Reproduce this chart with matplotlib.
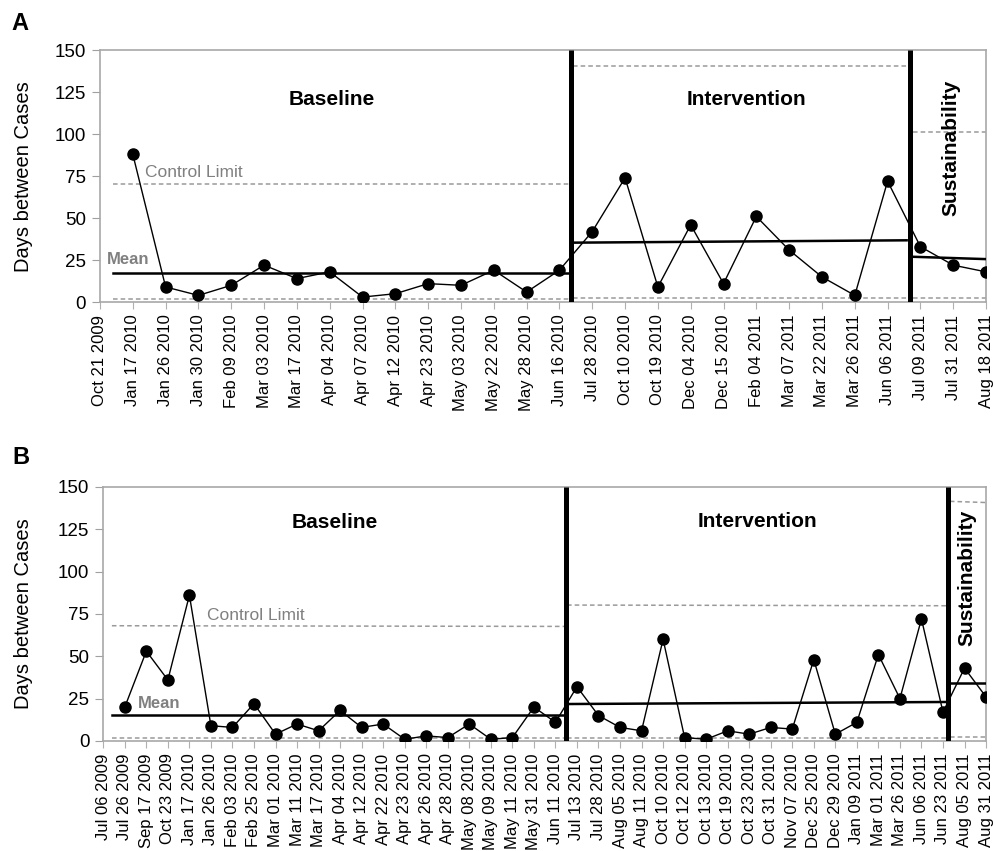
import numpy as np
import matplotlib.pyplot as plt

plt.rcParams['font.family'] = ['Liberation Sans', 'DejaVu Sans']

# -----------------------------
# Panel A data
# -----------------------------
dates_a = ["Oct 21 2009", "Jan 17 2010", "Jan 26 2010", "Jan 30 2010", "Feb 09 2010",
           "Mar 03 2010", "Mar 17 2010", "Apr 04 2010", "Apr 07 2010", "Apr 12 2010",
           "Apr 23 2010", "May 03 2010", "May 22 2010", "May 28 2010", "Jun 16 2010",
           "Jul 28 2010", "Oct 10 2010", "Oct 19 2010", "Dec 04 2010", "Dec 15 2010",
           "Feb 04 2011", "Mar 07 2011", "Mar 22 2011", "Mar 26 2011", "Jun 06 2011",
           "Jul 09 2011", "Jul 31 2011", "Aug 18 2011"]
days_a = [88, 9, 4, 10, 22, 14, 18, 3, 5, 11, 10, 19, 6, 19,
          42, 74, 9, 46, 11, 51, 31, 15, 4, 72, 33, 22, 18]
breaks_a = [14.36, 24.68]
mean_a = [(17.2, 17.2), (35.4, 36.8), (27.0, 25.6)]
ucl_a = [(70.5, 70.5), (140.7, 140.7), (101.0, 101.0)]
lcl_a = [(2.0, 2.0), (2.3, 2.3), (2.5, 2.5)]

# -----------------------------
# Panel B data
# -----------------------------
dates_b = ["Jul 06 2009", "Jul 26 2009", "Sep 17 2009", "Oct 23 2009", "Jan 17 2010",
           "Jan 26 2010", "Feb 03 2010", "Feb 25 2010", "Mar 01 2010", "Mar 11 2010",
           "Mar 17 2010", "Apr 04 2010", "Apr 12 2010", "Apr 22 2010", "Apr 23 2010",
           "Apr 26 2010", "Apr 28 2010", "May 08 2010", "May 09 2010", "May 11 2010",
           "May 31 2010", "Jun 11 2010", "Jul 13 2010", "Jul 28 2010", "Aug 05 2010",
           "Aug 11 2010", "Oct 10 2010", "Oct 12 2010", "Oct 13 2010", "Oct 19 2010",
           "Oct 23 2010", "Oct 31 2010", "Nov 07 2010", "Dec 25 2010", "Dec 29 2010",
           "Jan 09 2011", "Mar 01 2011", "Mar 26 2011", "Jun 06 2011", "Jun 23 2011",
           "Aug 05 2011", "Aug 31 2011"]
days_b = [20, 53, 36, 86, 9, 8, 22, 4, 10, 6, 18, 8, 10, 1, 3, 2, 10, 1, 2, 20, 11,
          32, 15, 8, 6, 60, 2, 1, 6, 4, 8, 7, 48, 4, 11, 51, 25, 72, 17,
          43, 26]
breaks_b = [21.48, 39.24]
mean_b = [(15.2, 15.2), (21.8, 23.0), (34.4, 34.4)]
ucl_b = [(68.0, 67.6), (80.2, 79.8), (141.4, 140.7)]
lcl_b = [(1.6, 1.6), (2.0, 2.0), (2.6, 2.6)]


def draw_panel(ax, dates, days, breaks, means, ucls, lcls):
    n = len(dates) - 1
    x = np.arange(1, n + 1)
    starts = [0.4, breaks[0] + 0.06, breaks[1] + 0.08]
    ends = [breaks[0] - 0.08, breaks[1] - 0.1, n]

    for s, e, m, u, l in zip(starts, ends, means, ucls, lcls):
        ax.plot([s, e], u, ls=(0, (3, 2)), color="#9a9a9a", lw=1.1, zorder=2)
        ax.plot([s, e], l, ls=(0, (3, 2)), color="#9a9a9a", lw=1.1, zorder=2)
        ax.plot([s, e], m, color="black", lw=1.8, zorder=3)

    for b in breaks:
        ax.plot([b, b], [0, 150], color="black", lw=3.6, zorder=4,
                solid_capstyle="butt")

    ax.plot(x, days, color="black", lw=1.0, marker="o", ms=8, zorder=5)

    ax.set_xlim(0, n)
    ax.set_ylim(0, 150)
    ax.set_yticks(np.arange(0, 151, 25))
    ax.set_xticks(np.arange(0, n + 1))
    ax.set_xticklabels(dates, rotation=90, fontsize=12)
    ax.tick_params(axis="y", labelsize=13.5, length=6, color="#a0a0a0", pad=4)
    ax.tick_params(axis="x", length=5, color="#b0b0b0", pad=4)
    for sp in ax.spines.values():
        sp.set_color("#a8a8a8")
        sp.set_linewidth(1.2)
    ax.set_ylabel("Days between Cases", fontsize=14.5)


fig = plt.figure(figsize=(9.93, 8.51), dpi=100)

# (A)
axA = fig.add_axes([0.1007, 0.645, 0.8923, 0.296])
draw_panel(axA, dates_a, days_a, breaks_a, mean_a, ucl_a, lcl_a)
axA.yaxis.set_label_coords(-0.076, 0.5)
axA.text(7.05, 120.4, "Baseline", ha="center", va="center", fontsize=15, fontweight="bold")
axA.text(19.7, 120.4, "Intervention", ha="center", va="center", fontsize=15, fontweight="bold")
axA.text(25.93, 91.7, "Sustainability", ha="center", va="center", rotation=90,
         fontsize=15, fontweight="bold")
axA.text(1.37, 77.4, "Control Limit", ha="left", va="center", fontsize=12.5, color="#808080")
axA.text(0.21, 25.4, "Mean", ha="left", va="center", fontsize=12, fontweight="bold",
         color="#808080")

# (B)
axB = fig.add_axes([0.1040, 0.1293, 0.8890, 0.2987])
draw_panel(axB, dates_b, days_b, breaks_b, mean_b, ucl_b, lcl_b)
axB.yaxis.set_label_coords(-0.080, 0.5)
axB.text(10.74, 128.8, "Baseline", ha="center", va="center", fontsize=15, fontweight="bold")
axB.text(30.4, 129.4, "Intervention", ha="center", va="center", fontsize=15, fontweight="bold")
axB.text(40.1, 96.2, "Sustainability", ha="center", va="center", rotation=90,
         fontsize=15, fontweight="bold")
axB.text(4.84, 74.3, "Control Limit", ha="left", va="center", fontsize=12.5, color="#808080")
axB.text(1.63, 22.4, "Mean", ha="left", va="center", fontsize=12, fontweight="bold",
         color="#808080")

# Panel letters
fig.text(20 / 993, 1 - 24 / 851, "A", ha="center", va="center", fontsize=17, fontweight="bold")
fig.text(21 / 993, 1 - 458 / 851, "B", ha="center", va="center", fontsize=17, fontweight="bold")

plt.savefig("out.png", dpi=100)
